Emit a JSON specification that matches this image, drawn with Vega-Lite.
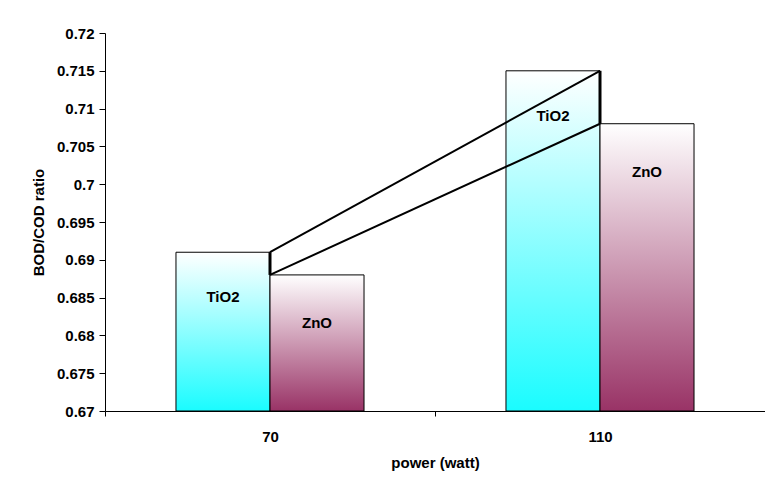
{
  "$schema": "https://vega.github.io/schema/vega-lite/v6.json",
  "autosize": {"type": "none"},
  "width": 660,
  "height": 378,
  "padding": {"left": 105, "top": 33, "right": 0, "bottom": 77},
  "background": "white",
  "config": {
    "view": {"stroke": null},
    "font": "Liberation Sans",
    "axis": {"labelFont": "Liberation Sans", "titleFont": "Liberation Sans", "labelFontWeight": "bold", "titleFontWeight": "bold", "labelColor": "black", "titleColor": "black", "domainColor": "black", "tickColor": "black", "grid": false}
  },
  "data": {
    "values": [
      {"power": "70", "material": "TiO2", "ratio": 0.691},
      {"power": "70", "material": "ZnO", "ratio": 0.688},
      {"power": "110", "material": "TiO2", "ratio": 0.715},
      {"power": "110", "material": "ZnO", "ratio": 0.708}
    ]
  },
  "encoding": {
    "x": {
      "field": "power", "type": "nominal", "sort": ["70", "110"],
      "scale": {"paddingInner": 0, "paddingOuter": 0},
      "axis": {"title": "power (watt)", "labelAngle": 0, "tickBand": "extent", "tickSize": 5, "labelFontSize": 15, "titleFontSize": 15, "labelPadding": 13, "titlePadding": 11}
    },
    "y": {"field": "ratio", "type": "quantitative",
      "scale": {"domain": [0.67, 0.72], "nice": false, "zero": false},
      "axis": {"title": "BOD/COD ratio", "values": [0.67, 0.675, 0.68, 0.685, 0.69, 0.695, 0.7, 0.705, 0.71, 0.715, 0.72], "format": ".3~f", "labelOverlap": false, "tickSize": 6, "labelFontSize": 15, "titleFontSize": 15, "labelPadding": 5, "titlePadding": 10}}
  },
  "layer": [
    {
      "transform": [{"filter": "datum.material === 'TiO2'"}],
      "mark": {"type": "bar", "stroke": "black", "strokeWidth": 1,
        "fill": {"gradient": "linear", "x1": 0, "y1": 1, "x2": 0, "y2": 0, "stops": [{"offset": 0, "color": "#1afcff"}, {"offset": 1, "color": "#ffffff"}]}},
      "encoding": {
        "xOffset": {"field": "material", "type": "nominal", "scale": {"domain": ["TiO2", "ZnO"], "paddingInner": 0, "paddingOuter": 0.755}},
        "y2": {"datum": 0.67}
      }
    },
    {
      "transform": [{"filter": "datum.material === 'ZnO'"}],
      "mark": {"type": "bar", "stroke": "black", "strokeWidth": 1,
        "fill": {"gradient": "linear", "x1": 0, "y1": 1, "x2": 0, "y2": 0, "stops": [{"offset": 0, "color": "#993366"}, {"offset": 1, "color": "#ffffff"}]}},
      "encoding": {
        "xOffset": {"field": "material", "type": "nominal", "scale": {"domain": ["TiO2", "ZnO"], "paddingInner": 0, "paddingOuter": 0.755}},
        "y2": {"datum": 0.67}
      }
    },
    {
      "mark": {"type": "line", "color": "black", "strokeWidth": 2},
      "encoding": {
        "detail": {"field": "material", "type": "nominal"}
      }
    },
    {
      "mark": {"type": "rule", "color": "black", "strokeWidth": 3},
      "encoding": {
        "y": {"field": "ratio", "type": "quantitative", "aggregate": "min",
          "axis": {"title": "BOD/COD ratio", "values": [0.67, 0.675, 0.68, 0.685, 0.69, 0.695, 0.7, 0.705, 0.71, 0.715, 0.72], "format": ".3~f", "labelOverlap": false, "tickSize": 6, "labelFontSize": 15, "titleFontSize": 15, "labelPadding": 5, "titlePadding": 10}},
        "y2": {"field": "ratio", "aggregate": "max"}
      }
    },
    {
      "transform": [{"filter": "datum.material === 'TiO2'"}],
      "mark": {"type": "text", "fontWeight": "bold", "fontSize": 15, "dy": 45, "color": "black"},
      "encoding": {
        "xOffset": {"field": "material", "type": "nominal", "scale": {"domain": ["TiO2", "ZnO"], "paddingInner": 0, "paddingOuter": 0.755}},
        "text": {"field": "material"}
      }
    },
    {
      "transform": [{"filter": "datum.material === 'ZnO'"}],
      "mark": {"type": "text", "fontWeight": "bold", "fontSize": 15, "dy": 48, "color": "black"},
      "encoding": {
        "xOffset": {"field": "material", "type": "nominal", "scale": {"domain": ["TiO2", "ZnO"], "paddingInner": 0, "paddingOuter": 0.755}},
        "text": {"field": "material"}
      }
    }
  ]
}
